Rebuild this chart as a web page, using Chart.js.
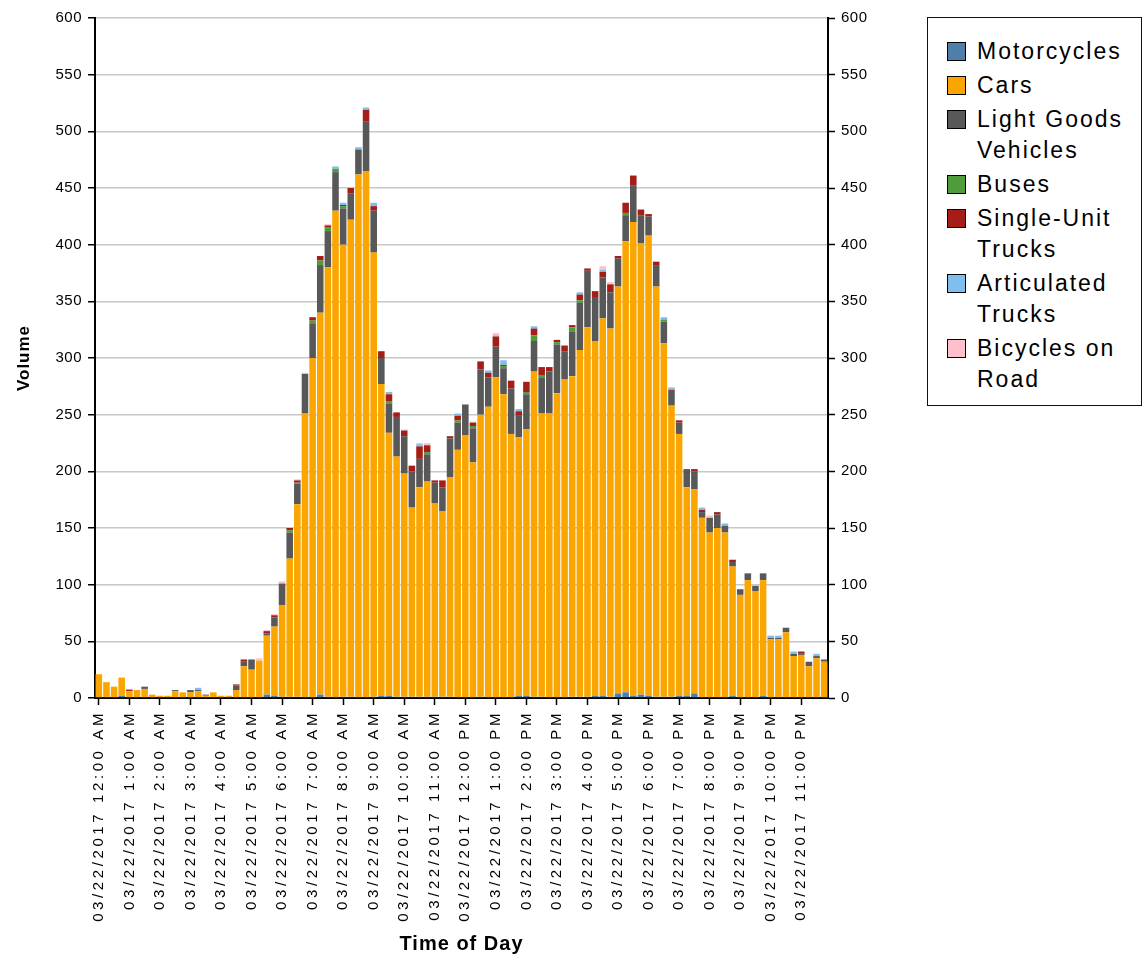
<!DOCTYPE html>
<html><head><meta charset="utf-8">
<script src="https://cdn.jsdelivr.net/npm/chart.js@4.4.1/dist/chart.umd.min.js"></script>
<style>
html,body{margin:0;padding:0;background:#fff;}
#wrap{position:relative;width:1146px;height:962px;overflow:hidden;}
#chartBox{position:absolute;left:0;top:0;width:900px;height:962px;}
#legend{position:absolute;left:927px;top:17px;width:215px;height:389px;border:1px solid #111;box-sizing:border-box;padding-top:18px;font-family:"Liberation Sans",Arial,sans-serif;font-size:23px;letter-spacing:2px;color:#000;}
.item{position:relative;padding-left:49px;line-height:31px;margin-bottom:3px;}
.sw{position:absolute;left:19px;top:6px;width:17px;height:17px;border:1px solid #000;}
</style></head>
<body><div id="wrap"><div id="chartBox"><canvas id="c"></canvas></div><div id="legend"></div></div>
<script>
const tickLabels = ["12:00 AM","1:00 AM","2:00 AM","3:00 AM","4:00 AM","5:00 AM","6:00 AM","7:00 AM","8:00 AM","9:00 AM","10:00 AM","11:00 AM","12:00 PM","1:00 PM","2:00 PM","3:00 PM","4:00 PM","5:00 PM","6:00 PM","7:00 PM","8:00 PM","9:00 PM","10:00 PM","11:00 PM"];
const datePrefix = "03/22/2017";
const quarterMinutes = ["00","15","30","45"];
const categories = [];
tickLabels.forEach(t => { const [hm, ap] = t.split(" "); const h = hm.split(":")[0]; quarterMinutes.forEach(m => categories.push(datePrefix + " " + h + ":" + m + " " + ap)); });

const seriesNames = ["Motorcycles","Cars","Light Goods Vehicles","Buses","Single-Unit Trucks","Articulated Trucks","Bicycles on Road"];
const legendLines = [["Motorcycles"],["Cars"],["Light Goods","Vehicles"],["Buses"],["Single-Unit","Trucks"],["Articulated","Trucks"],["Bicycles on","Road"]];
const seriesColors = ["#4F7FA8","#FBA600","#585858","#4F9D3A","#A61C16","#7DC0F0","#FFC0CB"];

const motorcycles = [0,0,0,2, 0,0,0,0, 0,0,0,0, 0,0,0,0, 0,0,0,0, 0,0,3,2,
  1,1,1,0, 0,3,1,0, 1,1,0,0, 1,2,2,1, 1,1,1,1, 1,1,1,0,
  0,0,1,0, 0,0,0,2, 2,1,1,0, 0,0,1,1, 1,2,2,1, 4,5,2,3,
  2,1,1,1, 2,2,4,0, 0,0,0,2, 0,0,0,2, 0,0,0,0, 0,0,0,0];
const cars = [21,14,10,16, 6,7,8,3, 2,2,6,5, 5,6,2,5, 2,2,7,28, 25,33,52,61,
  81,122,170,251, 300,337,379,430, 399,421,462,465, 392,275,232,212, 197,167,185,190, 171,164,194,219,
  232,208,249,257, 283,268,233,228, 235,287,250,251, 269,281,283,306, 326,313,333,325, 359,398,418,398,
  406,362,312,257, 231,184,180,159, 146,150,146,114, 91,104,94,102, 52,52,58,37, 38,28,35,32];
const lightGoods = [0,0,0,0, 0,0,2,0, 0,0,1,0, 2,1,1,0, 0,0,4,4, 9,0,2,8,
  19,23,18,35, 30,42,32,34, 32,23,22,44, 37,23,26,35, 33,32,25,24, 18,21,34,24,
  27,30,40,26, 27,23,40,19, 31,27,32,37, 43,25,39,42, 50,38,36,32, 25,23,32,25,
  17,19,19,13, 10,16,16,5, 13,12,6,4, 5,6,5,6, 1,1,4,2, 1,4,2,2];
const buses = [0,0,0,0, 0,0,0,0, 0,0,0,0, 0,0,0,0, 0,0,0,0, 0,0,0,0,
  0,2,1,0, 3,4,3,3, 2,0,0,0, 0,0,2,0, 0,0,0,2, 0,0,0,2,
  0,2,0,0, 0,2,0,0, 2,5,2,0, 2,0,4,2, 0,0,0,0, 0,2,0,0,
  0,0,2,0, 0,0,0,0, 0,0,0,0, 0,0,0,0, 0,0,0,0, 0,0,0,0];
const singleUnit = [0,0,0,0, 1,0,0,0, 0,0,0,0, 0,0,0,0, 0,0,1,2, 0,0,2,2,
  0,2,2,0, 3,4,2,0, 1,5,0,10, 4,6,6,4, 5,5,11,6, 2,6,2,4,
  0,3,7,4, 9,1,7,4, 9,6,7,4, 2,5,2,5, 2,6,5,7, 2,9,9,5,
  2,3,0,1, 2,0,2,2, 0,2,0,2, 0,0,0,0, 0,0,0,0, 2,0,0,0];
const articulated = [0,0,0,0, 1,0,0,0, 0,0,0,0, 0,2,0,0, 0,0,0,0, 0,0,0,0,
  0,0,0,0, 0,0,0,2, 2,0,2,2, 3,0,2,0, 0,0,2,0, 0,0,0,2,
  0,0,0,2, 1,4,0,2, 0,2,0,0, 0,0,0,2, 0,0,2,0, 0,0,0,0,
  0,0,2,2, 0,0,0,2, 0,0,2,0, 0,0,0,0, 2,2,0,2, 0,0,2,0];
const bicycles = [0,0,0,0, 0,0,0,0, 0,0,0,0, 0,0,0,0, 0,0,0,0, 0,2,1,1,
  2,0,1,1, 0,0,1,0, 0,0,0,0, 0,0,0,0, 1,0,1,2, 0,0,0,0,
  0,1,0,0, 2,0,0,0, 0,0,0,0, 0,0,0,0, 0,0,3,2, 0,0,0,0,
  0,0,0,0, 0,0,0,0, 2,0,0,0, 0,0,0,0, 0,0,0,0, 0,0,0,0];
const seriesData = [motorcycles, cars, lightGoods, buses, singleUnit, articulated, bicycles];
const yTicks = [0,50,100,150,200,250,300,350,400,450,500,550,600];

// legend (HTML)
const lg = document.getElementById('legend');
seriesNames.forEach((n, i) => {
  const d = document.createElement('div'); d.className = 'item';
  const s = document.createElement('span'); s.className = 'sw'; s.style.background = seriesColors[i];
  d.appendChild(s);
  legendLines[i].forEach((ln, j) => { if (j) d.appendChild(document.createElement('br')); d.appendChild(document.createTextNode(ln)); });
  lg.appendChild(d);
});

Chart.defaults.font.family = '"Liberation Sans", Arial, sans-serif';
Chart.defaults.color = '#000';

const spacingPlugin = {
  id: 'spacing',
  afterUpdate(chart) {
    const spec = { x: { drawLabels: '3.6px', drawTitle: '1px' }, y: { drawLabels: '0.5px', drawTitle: '1px' }, y2: { drawLabels: '0.5px' } };
    Object.keys(spec).forEach(id => {
      const sc = chart.scales[id];
      if (!sc || sc.__patched) return;
      sc.__patched = true;
      Object.keys(spec[id]).forEach(m => {
        const orig = sc[m];
        sc[m] = function (...a) { const c = this.ctx; c.save(); c.letterSpacing = spec[id][m]; orig.apply(this, a); c.restore(); };
      });
    });
  }
};

new Chart(document.getElementById('c'), {
  type: 'bar',
  data: {
    labels: categories,
    datasets: seriesNames.map((n, i) => ({
      label: n, data: seriesData[i], backgroundColor: seriesColors[i],
      borderWidth: 0, barPercentage: 0.86, categoryPercentage: 1.0
    }))
  },
  options: {
    responsive: true, maintainAspectRatio: false, animation: false,
    layout: { padding: { top: 18, left: 0, right: 0, bottom: 0 } },
    plugins: { legend: { display: false }, tooltip: { enabled: false } },
    scales: {
      x: {
        stacked: true, offset: true,
        grid: { display: true, drawOnChartArea: false, offset: false, tickLength: 7, tickWidth: 1.5,
          tickColor: ctx => (ctx.index % 4 === 0 ? '#000' : 'rgba(0,0,0,0)') },
        border: { color: '#000', width: 2 },
        ticks: { autoSkip: false, maxRotation: 90, minRotation: 90, padding: 5, font: { size: 15 }, color: '#000',
          callback: (v, i) => (i % 4 === 0 ? categories[i] : '') },
        title: { display: true, text: 'Time of Day', font: { size: 20, weight: 'bold' }, color: '#000', padding: { top: 4, bottom: 6 } },
        afterFit: s => { s.height = 264; }
      },
      y: {
        stacked: true, position: 'left', min: 0, max: 600,
        afterBuildTicks: s => { s.ticks = yTicks.map(v => ({ value: v })); },
        ticks: { padding: 6, font: { size: 15 }, color: '#000' },
        grid: { color: '#c8c8c8', lineWidth: 1.5, tickColor: '#000', tickLength: 7, tickWidth: 1.5 },
        border: { color: '#000', width: 2 },
        title: { display: true, text: 'Volume', font: { size: 17, weight: 'bold' }, color: '#000', padding: { top: 14, bottom: 0 } },
        afterFit: s => { s.width = 95; }
      },
      y2: {
        position: 'right', min: 0, max: 600,
        afterBuildTicks: s => { s.ticks = yTicks.map(v => ({ value: v })); },
        ticks: { padding: 6, font: { size: 15 }, color: '#000' },
        grid: { drawOnChartArea: false, tickColor: '#000', tickLength: 7, tickWidth: 1.5 },
        border: { color: '#000', width: 2 },
        afterFit: s => { s.width = 72; }
      }
    }
  },
  plugins: [spacingPlugin]
});
</script></body></html>
